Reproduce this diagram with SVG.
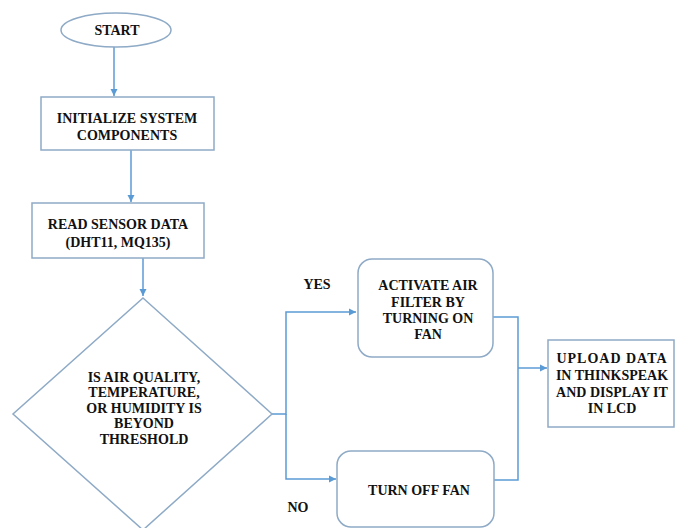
<svg xmlns="http://www.w3.org/2000/svg" width="675" height="528" viewBox="0 0 675 528">
<style>
.shape{fill:#ffffff;stroke:#8eaac6;stroke-width:1.5}
.conn{fill:none;stroke:#5b9bd5;stroke-width:1.5}
text{font-family:"Liberation Serif","Times New Roman",serif;font-weight:bold;font-size:14px;fill:#111111;text-anchor:middle}
</style>
<defs>
<marker id="ah" markerWidth="8" markerHeight="8" refX="7" refY="4" orient="auto" markerUnits="userSpaceOnUse">
<path d="M0,0.5 L7,4 L0,7.5 Z" fill="#5b9bd5"/>
</marker>
</defs>
<rect width="675" height="528" fill="#ffffff"/>
<g id="connectors">
<path class="conn" d="M114,47 V96" marker-end="url(#ah)"/>
<path class="conn" d="M131,150 V202" marker-end="url(#ah)"/>
<path class="conn" d="M143,258 V296" marker-end="url(#ah)"/>
<path class="conn" d="M272,414 H286 V312 H356" marker-end="url(#ah)"/>
<path class="conn" d="M286,414 V479 H336" marker-end="url(#ah)"/>
<path class="conn" d="M493,317 H518 V480 H494"/>
<path class="conn" d="M518,368 H547" marker-end="url(#ah)"/>
</g>
<g id="start">
<ellipse class="shape" cx="116" cy="30" rx="55" ry="17"/>
<text x="117" y="35">START</text>
</g>
<g id="init">
<rect class="shape" x="41" y="97" width="173" height="53"/>
<text x="127" y="123">INITIALIZE SYSTEM</text>
<text x="127" y="140">COMPONENTS</text>
</g>
<g id="read">
<rect class="shape" x="32" y="203" width="172" height="55"/>
<text x="118" y="229">READ SENSOR DATA</text>
<text x="118" y="247">(DHT11, MQ135)</text>
</g>
<g id="decision">
<polygon class="shape" points="143,298 272,414 143,530 13,414"/>
<text x="144" y="382">IS AIR QUALITY,</text>
<text x="144" y="397">TEMPERATURE,</text>
<text x="144" y="413">OR HUMIDITY  IS</text>
<text x="144" y="428">BEYOND</text>
<text x="144" y="444">THRESHOLD</text>
</g>
<g id="activate">
<rect class="shape" x="358" y="259" width="135" height="98" rx="14"/>
<text x="428" y="290">ACTIVATE AIR</text>
<text x="428" y="307">FILTER BY</text>
<text x="428" y="323">TURNING ON</text>
<text x="428" y="339">FAN</text>
</g>
<g id="turnoff">
<rect class="shape" x="337" y="451" width="157" height="76" rx="14"/>
<text x="419" y="495">TURN OFF FAN</text>
</g>
<g id="upload">
<rect class="shape" x="548" y="340" width="126" height="87"/>
<text x="612" y="363" letter-spacing="1">UPLOAD DATA</text>
<text x="612" y="380">IN THINKSPEAK</text>
<text x="612" y="397">AND DISPLAY IT</text>
<text x="612" y="413">IN LCD</text>
</g>
<g id="labels">
<text x="317" y="289">YES</text>
<text x="298" y="512">NO</text>
</g>
</svg>
